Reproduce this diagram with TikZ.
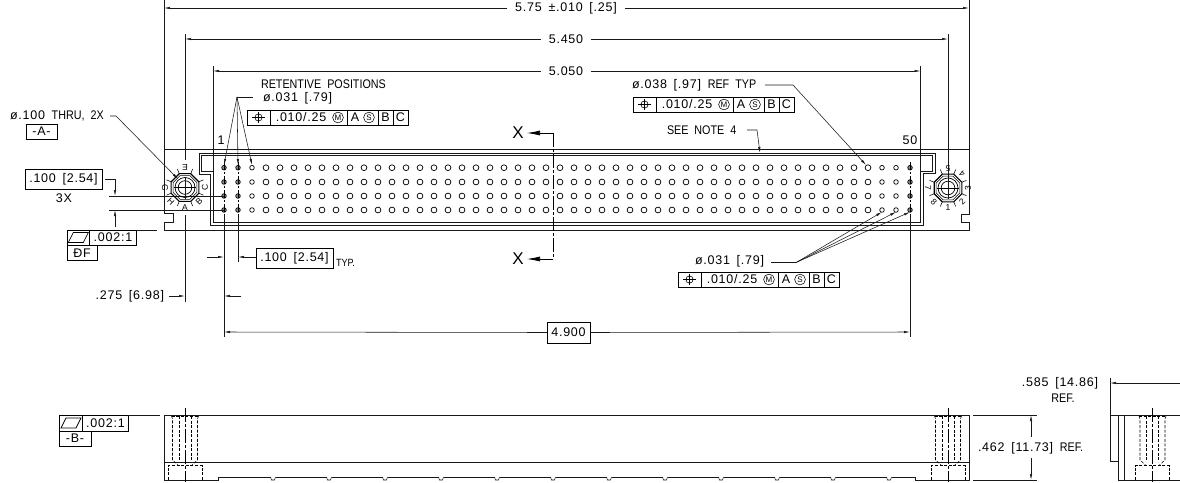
\documentclass[tikz,border=0pt]{standalone}
\usepackage{fontspec}
\setmainfont{Liberation Sans}[LetterSpace=6,WordSpace=1.6]
\newfontfamily\capf{Liberation Sans}[FakeStretch=0.86,WordSpace=2]
\usetikzlibrary{arrows.meta}
\tikzset{
 x=1pt,y=-1pt,
 every node/.style={inner sep=0pt,outer sep=0pt,font=\fontsize{12.5}{14}\selectfont},
 ln/.style={line width=0.7pt,black!90},
 thick ln/.style={line width=1.0pt,black!90},
 thin ln/.style={line width=0.55pt,black!90},
 hid/.style={line width=0.55pt,dash pattern=on 3pt off 1.6pt},
 cen/.style={line width=0.55pt,dash pattern=on 14pt off 2pt on 3pt off 2pt},
 holecen/.style={line width=0.55pt,dash pattern=on 8pt off 2pt on 2pt off 2pt},
 dimarr/.style={thin ln,-{Latex[length=6pt,width=2.4pt]}},
 secarr/.style={line width=0.7pt,-{Latex[length=13pt,width=5pt]}},
 hole/.style={line width=0.7pt},
 lbl/.style={anchor=west},
 sym/.style={anchor=center,font=\fontsize{8}{9}\selectfont},
 big/.style={font=\fontsize{17}{18}\selectfont},
}
\newcommand{\dia}{ø}
\newcommand{\fcframe}[3]{%
 \begin{scope}[shift={(#1,#2)}]
 \draw[line width=0.65pt] (0,0) rectangle (161,15);
 \foreach \q in {23,100,131,146}{\draw[line width=0.65pt] (\q,0)--(\q,15);}
 \draw[line width=0.6pt] (11.5,7.5) circle (3.6pt);
 \draw[line width=0.6pt] (5,7.5)--(18,7.5) (11.5,1.8)--(11.5,13.2);
 \node[anchor=center] (#3v) at (54,7.5) {.010/.25};
 \draw[line width=0.55pt] (91,7.5) circle (5.4pt);
 \node[sym] (#3m) at (91,7.5) {M};
 \node[anchor=center] (#3a) at (108,7.5) {A};
 \draw[line width=0.55pt] (122,7.5) circle (5.4pt);
 \node[sym] (#3s) at (122,7.5) {S};
 \node[anchor=center] (#3b) at (138.5,7.5) {B};
 \node[anchor=center] (#3c) at (153.5,7.5) {C};
 \end{scope}}
\newcommand{\flatsym}[2]{%
 \draw[line width=0.7pt] (#1-10,#2+5)--(#1-5,#2-5)--(#1+10,#2-5)--(#1+5,#2+5)--cycle;}
\newcommand{\stud}[2]{%
 \begin{scope}[shift={(#1,0)}]
 \draw[hid] (-13.5,#2+1)--(-12.5,#2+4)--(-12.5,460)--(-7,465) (13.5,#2+1)--(12.5,#2+4)--(12.5,460)--(7,465);
 \draw[hid] (-6,#2+1)--(-6,462) (6,#2+1)--(6,462) (-13.5,#2+1)--(13.5,#2+1);
 \draw[hid] (-17,480)--(-17,465.5)--(17,465.5)--(17,480);
 \end{scope}}
\newcommand{\boss}[3]{%
 \begin{scope}[shift={(#1,#2)}]
 \draw[line width=1.2pt] (22.5:15) -- (67.5:15) -- (112.5:15) -- (157.5:15) -- (202.5:15) -- (247.5:15) -- (292.5:15) -- (337.5:15) -- cycle;
 \draw[line width=0.55pt] (22.5:12.8) -- (67.5:12.8) -- (112.5:12.8) -- (157.5:12.8) -- (202.5:12.8) -- (247.5:12.8) -- (292.5:12.8) -- (337.5:12.8) -- cycle;
 \draw[line width=0.7pt] (0,0) circle (10pt);
 \draw[line width=0.7pt] (0,0) circle (6.8pt);
 \draw[line width=0.55pt] (-11,0)--(11,0);
 \foreach \a in {22.5,67.5,...,337.5}{\draw[line width=0.55pt] (\a:15)--(\a:20);}
 \foreach \a/\t in {#3}{\node[anchor=center,rotate=\a+90,font=\fontsize{8.5}{9}\selectfont] at ({20*cos(\a)},{-20*sin(\a)}) {\t};}
 \end{scope}}
\begin{document}
\begin{tikzpicture}
\useasboundingbox (0,0) rectangle (1180,482);
\coordinate (e1a) at (164,0); \coordinate (e1b) at (164,149);
\coordinate (e2a) at (969,0); \coordinate (e2b) at (969,149);
% body outline
\draw[ln] (164,149)--(969,149)--(969,214)--(961,214)--(961,222)--(969,222)--(969,230)--(164,230)--(164,222)--(173,222)--(173,213)--(164,213)--cycle;
% connector shell
\draw[thick ln] (199,153)--(935,153)--(935,173.5)--(923,173.5)--(923,225)--(210.5,225)--(210.5,174)--(199,174)--cycle;
\draw[thin ln] (201.5,155.5)--(932.5,155.5)--(932.5,171.5)--(920.5,171.5)--(920.5,222.7)--(213,222.7)--(213,171.7)--(201.5,171.7)--cycle;
% extension lines
\draw[thin ln] (e1a)--(e1b) (e2a)--(e2b);
\draw[thin ln] (185,34)--(185,160) (185,215)--(185,302);
\draw[thin ln] (948,34)--(948,177);
\draw[thin ln] (213,66)--(213,172) (920.5,66)--(920.5,172);
% dims top
\node (d575) at (566,8) {5.75 ±.010 [.25]};
\draw[dimarr] (d575.west)++(-8,0)--(164,8);
\draw[dimarr] (d575.east)++(8,0)--(969,8);
\node (d545) at (566,39) {5.450};
\draw[dimarr] (d545.west)++(-8,0)--(185,39);
\draw[dimarr] (d545.east)++(8,0)--(948,39);
\node (d505) at (566,71) {5.050};
\draw[dimarr] (d505.west)++(-8,0)--(213,71);
\draw[dimarr] (d505.east)++(8,0)--(920.5,71);
% holes
\foreach \c in {0,...,49}{
 \pgfmathsetmacro{\hx}{224+14*\c}
 \foreach \hy in {167.7,182,196,210}{
  \ifnum\c<2\relax
   \draw[hole,fill=black!45] (\hx,\hy) circle (2.3pt);
  \else\ifnum\c>48\relax
   \draw[hole,fill=black!45] (\hx,\hy) circle (2.3pt);
  \else\ifnum\c=2\relax
   \draw[hole] (\hx,\hy) circle (2.3pt);
  \else\ifnum\c>46\relax
   \draw[hole] (\hx,\hy) circle (2.3pt);
  \else
   \draw[hole] (\hx,\hy) circle (2.9pt);
  \fi\fi\fi\fi
 }}
% hole centre lines & dims
\draw[holecen] (224,162)--(224,217); \draw[holecen] (238,162)--(238,217); \draw[holecen] (910,162)--(910,217);
\draw[thin ln] (224,215)--(224,337) (238,215)--(238,262) (910,215)--(910,337);
\draw[thin ln] (109,196)--(224,196) (109,210)--(224,210);
% bosses
\boss{185}{187.5}{90/E,0/C,315/B,270/A,225/H,180/G}
\boss{948}{188}{90/5,45/4,0/3,315/2,270/1,225/8,180/7}
\draw[thin ln] (948,177)--(948,199);
\draw[thin ln] (185,177)--(185,199);
% notes left
\node[lbl] (nthru) at (10,116) {\dia.100 {\capf THRU, 2X}};
\node[draw,line width=0.6pt,minimum width=31pt,minimum height=15pt,anchor=center] (boxA) at (41.5,131.5) {-A-};
\coordinate (t1) at (110,116); \coordinate (t2) at (116,116); \coordinate (t3) at (178,179);
\draw[dimarr] (t1)--(t2)--(t3);
\node[draw,line width=0.65pt,minimum width=77pt,minimum height=20pt,anchor=center] (b100) at (63.5,179) {.100 [2.54]};
\node (n3x) at (64,198) {3X};
\coordinate (k1) at (105,179); \coordinate (k2) at (115,179); \coordinate (k3) at (115,196); \coordinate (k4) at (115,227); \coordinate (k5) at (115,210);
\draw[dimarr] (k1)--(k2)--(k3);
\draw[dimarr] (k4)--(k5);
% flatness frame
\draw[line width=0.65pt] (67,230) rectangle (136,245) (89.5,230)--(89.5,245) (67,245) rectangle (97.5,260);
\flatsym{78.3}{237.5}
\node (f1) at (113,237.5) {.002:1};
\node (fdf) at (82,253) {ÐF};
\draw[thin ln] (136,230)--(157,230);
% 100 typ
\node[draw,line width=0.65pt,minimum width=77pt,minimum height=20pt,anchor=center] (b100t) at (294.5,258.5) {.100 [2.54]};
\node[anchor=west,font=\capf\fontsize{10.5}{12}\selectfont] (ntyp) at (336,263) {TYP.};
\coordinate (l1) at (207,257); \coordinate (l2) at (224,257); \coordinate (l3) at (256,257); \coordinate (l4) at (238,257);
\draw[dimarr] (l1)--(l2); \draw[dimarr] (l3)--(l4);
% 275
\node[anchor=east] (n275) at (164,296) {.275 [6.98]};
\coordinate (m1) at (169,296); \coordinate (m2) at (185,296); \coordinate (m3) at (241,296); \coordinate (m4) at (224,296);
\draw[dimarr] (m1)--(m2); \draw[dimarr] (m3)--(m4);
% 4.900
\node[draw,line width=0.65pt,minimum width=43pt,minimum height=21pt,anchor=center] (b49) at (568.5,332.5) {4.900};
\coordinate (g1) at (224,332); \coordinate (g2) at (910,332);
\draw[dimarr] (b49.west)--(g1); \draw[dimarr] (b49.east)--(g2);
% retentive
\node[lbl,font=\capf\fontsize{12.5}{14}\selectfont] (nret) at (261,84) {RETENTIVE POSITIONS};
\node[lbl] (n031) at (263,98) {\dia.031 [.79]};
\coordinate (r0) at (253,97); \coordinate (r1) at (237,97);
\coordinate (ra) at (224,165); \coordinate (rb) at (238,165); \coordinate (rc) at (252,165);
\draw[thin ln] (r0)--(r1);
\draw[dimarr] (r1)--(ra); \draw[dimarr] (r1)--(rb); \draw[dimarr] (r1)--(rc);
\fcframe{247}{110}{fa}
% ref typ
\node[lbl] (n038) at (632,85) {\dia.038 [.97] {\capf REF TYP}};
\coordinate (s0) at (765,85); \coordinate (s1) at (793,85); \coordinate (s2) at (866,165);
\draw[dimarr] (s0)--(s1)--(s2);
\fcframe{633}{97}{fb}
% see note
\node[lbl,font=\capf\fontsize{12.5}{14}\selectfont] (nsee) at (667,130) {SEE NOTE 4};
\coordinate (n0) at (747,130); \coordinate (n1) at (757,130); \coordinate (n2) at (760,153);
\draw[dimarr] (n0)--(n1)--(n2);
\node (n1l) at (221,140) {1};
\node (n50) at (910,140) {50};
% section
\coordinate (xc) at (553,133); \coordinate (xd) at (553,259);
\coordinate (xe) at (527,133); \coordinate (xf) at (527,259);
\draw[cen] (xc)--(xd);
\node[big] (xa) at (518,133) {X};
\node[big] (xb) at (518,259) {X};
\draw[secarr] (xc)--(xe);
\draw[secarr] (xd)--(xf);
% lower note
\node[lbl] (n031b) at (695,261) {\dia.031 [.79]};
\coordinate (u0) at (771,262); \coordinate (u1) at (797,262);
\coordinate (ua) at (882,212); \coordinate (ub) at (896,212); \coordinate (uc) at (910,212);
\draw[thin ln] (u0)--(u1);
\draw[dimarr] (u1)--(ua); \draw[dimarr] (u1)--(ub); \draw[dimarr] (u1)--(uc);
\fcframe{678}{272}{fc}
% front view
\draw[ln] (164,415)--(969,415)--(969,480)--(915,480)--(915,477)--(218,477)--(218,480)--(164,480)--cycle;
\draw[ln] (164,462)--(969,462);
\foreach \c in {0,...,11}{
 \pgfmathsetmacro{\nx}{273+56*\c}
 \fill[white] (\nx-2.5,476)rectangle(\nx+2.5,478);
 \draw[thin ln] (\nx-2.5,477)--(\nx-1.5,480)--(\nx+1.5,480)--(\nx+2.5,477);
}
\stud{185}{415}
\stud{948}{415}
\draw[cen] (185,408)--(185,482);
\draw[cen] (948,408)--(948,482);
% flat B
\draw[line width=0.65pt] (59,415) rectangle (128,431) (82.7,415)--(82.7,431) (59,431) rectangle (91,446);
\flatsym{71}{423}
\node (f2) at (105.5,423) {.002:1};
\node (fb2) at (75,438.5) {-B-};
\draw[thin ln] (128,415)--(160,415);
% 462 dim
\draw[thin ln] (973,415)--(1037,415) (973,480)--(1037,480);
\node[lbl] (n462) at (978,448) {.462 [11.73] {\capf REF.}};
\coordinate (v1) at (1031,437); \coordinate (v2) at (1031,415); \coordinate (v3) at (1031,458); \coordinate (v4) at (1031,480);
\draw[dimarr] (v1)--(v2); \draw[dimarr] (v3)--(v4);
% side view
\draw[ln] (1180,415)--(1110,415)--(1110,461)--(1118,461)--(1118,480)--(1180,480);
\draw[ln] (1118,415)--(1118,461) (1124,415)--(1124,480);
\draw[thin ln] (1110,378)--(1110,415);
\stud{1152.5}{415}
\draw[cen] (1152.5,408)--(1152.5,482);
\node[anchor=east] (n585) at (1098,383) {.585 [14.86]};
\node[font=\capf\fontsize{12.5}{14}\selectfont] (n585b) at (1063,398) {REF.};
\coordinate (w1) at (1180,383); \coordinate (w2) at (1110,383);
\draw[dimarr] (w1)--(w2);
\end{tikzpicture}
\end{document}
